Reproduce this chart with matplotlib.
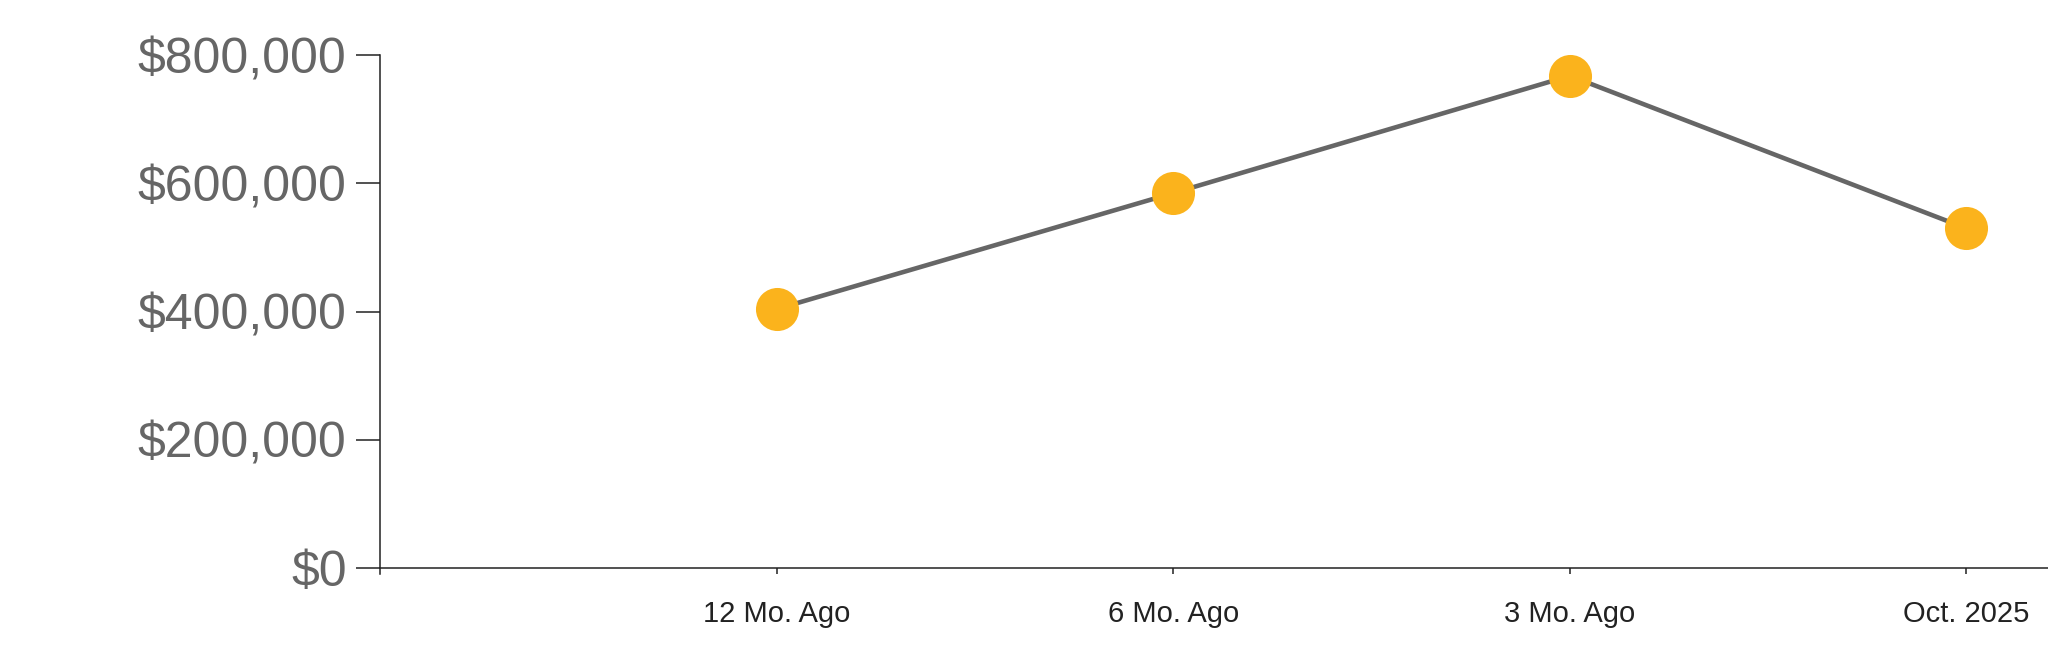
import matplotlib.pyplot as plt
from matplotlib.ticker import FuncFormatter

# data
periods = ['12 Mo. Ago', '6 Mo. Ago', '3 Mo. Ago', 'Oct. 2025']
prices = [404000, 585000, 768000, 530000]
y_ticks = [0, 200000, 400000, 600000, 800000]

plt.rcParams['font.family'] = ['Liberation Sans', 'DejaVu Sans']

fig = plt.figure(figsize=(20.48, 6.63), dpi=100)
W, H = 2048, 663
# axes spans from the y axis at x=380 to the right edge
ax = fig.add_axes([380 / W, 89 / H, (W - 380) / W, (574 - 55.3) / H])

# categories sit at 1..4, position 0 is the empty slot at the y axis
xs = list(range(1, len(periods) + 1))
ax.plot(xs, prices, color='#666666', linewidth=3.3, zorder=2, clip_on=False,
        solid_capstyle='butt')
ax.scatter(xs, prices, s=31 ** 2, color='#fbb31c', zorder=3, clip_on=False,
           linewidths=0)

ax.set_xlim(0, (W - 380) / 396.6)
ax.set_ylim(-9360, 800000)

ax.set_xticks(xs)
ax.set_xticklabels(periods)
ax.set_yticks(y_ticks)
ax.yaxis.set_major_formatter(FuncFormatter(lambda v, p: f'${v:,.0f}'))

for s in ['top', 'right']:
    ax.spines[s].set_visible(False)
ax.spines['bottom'].set_position(('data', 0))
ax.spines['left'].set_bounds(-9360, 800000)
for s in ['left', 'bottom']:
    ax.spines[s].set_color('#222222')
    ax.spines[s].set_linewidth(1.1)

ax.tick_params(axis='y', length=17, width=1.1, color='#222222', pad=7,
               labelsize=36, labelcolor='#666666')
ax.tick_params(axis='x', length=4.3, width=1.1, color='#222222', pad=19,
               labelsize=21, labelcolor='#222222')

fig.savefig('out.png', dpi=100)
